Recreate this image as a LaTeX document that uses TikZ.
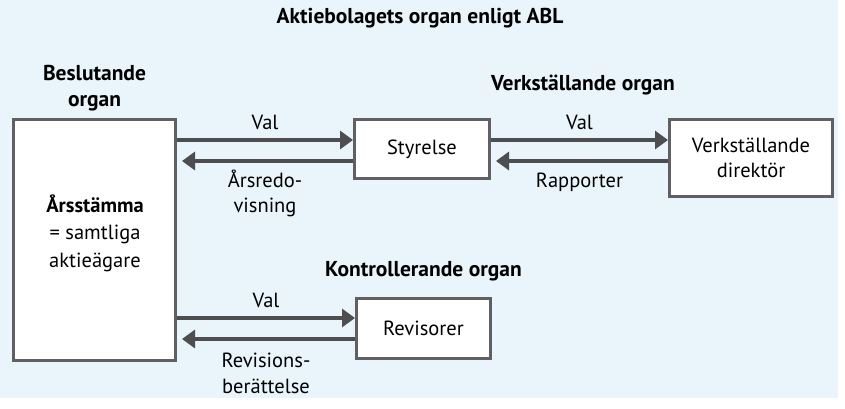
\documentclass[tikz,border=0pt]{standalone}
\usepackage{fontspec}
\setmainfont{PT Sans}
\usetikzlibrary{positioning, arrows.meta}
\definecolor{bgblue}{RGB}{233,245,251}
\definecolor{linegray}{RGB}{78,78,80}
\definecolor{boxgray}{RGB}{96,96,98}
\begin{document}
\begin{tikzpicture}[x=1pt, y=-1pt, node distance=6pt,
    every node/.style={font=\fontsize{20.5}{25.5}\selectfont, align=center, inner sep=1pt},
    organbox/.style={draw=boxgray, line width=3pt, fill=white, inner sep=0pt},
    head/.style={font=\fontsize{21.5}{26}\selectfont\bfseries},
    flow/.style={draw=linegray, line width=4pt, -{Triangle[length=13pt,width=18pt]}},
    back/.style={flow, shorten >=5pt}]
  \fill[white] (0,0) rectangle (845,408);
  \useasboundingbox (0,0) rectangle (845,408);
  \fill[bgblue] (0,0) rectangle (838,398);

  % organen
  \node[organbox, minimum width=162pt, minimum height=241pt] (stamma) at (94.5,240) {};
  \node[organbox, minimum width=135pt, minimum height=59pt] (styrelse) at (422,149) {Styrelse};
  \node[organbox, minimum width=163pt, minimum height=77pt] (vd) at (751,158) {Verkställande\\direktör};
  \node[organbox, minimum width=134pt, minimum height=60pt] (revisorer) at (423.5,328.5) {Revisorer};
  \node[font=\fontsize{20.5}{27.5}\selectfont] (arstext) at (95,233) {\textbf{Årsstämma}\\= samtliga\\aktieägare};

  % rubriker
  \node[head] (title) at (420,18) {Aktiebolagets organ enligt ABL};
  \node[head, above=6pt of stamma] (beslut) {Beslutande\\organ};
  \node[head] (verkst) at (583,85) {Verkställande organ};
  \node[head, above=15pt of revisorer] (kontroll) {Kontrollerande organ};

  % pilar
  \coordinate (s1) at ([yshift=9pt]styrelse.west);
  \coordinate (s2) at ([yshift=-12pt]styrelse.west);
  \coordinate (r1) at ([yshift=10.5pt]revisorer.west);
  \coordinate (r2) at ([yshift=-10.5pt]revisorer.west);
  \draw[flow] (stamma.east |- s1) -- node[above=7pt] {Val} (s1);
  \draw[back] (s2) -- node[below=6pt] {Årsredo-\\visning} (stamma.east |- s2);
  \draw[flow] (styrelse.east |- s1) -- node[above=7pt] {Val} (vd.west |- s1);
  \draw[back] (vd.west |- s2) -- node[below=9pt] {Rapporter} (styrelse.east |- s2);
  \draw[flow] (stamma.east |- r1) -- node[above=7pt] {Val} (r1);
  \draw[back] (r2) -- node[below=11pt] {Revisions-\\berättelse} (stamma.east |- r2);
\end{tikzpicture}
\end{document}
